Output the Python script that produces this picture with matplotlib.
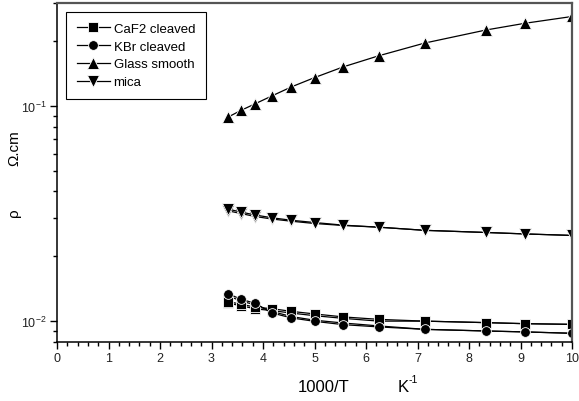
import matplotlib
matplotlib.use("Agg")
import matplotlib.pyplot as plt
from matplotlib.ticker import LogLocator, MultipleLocator, NullFormatter

plt.rcParams['font.family'] = ['Liberation Sans', 'DejaVu Sans']
plt.rcParams['mathtext.fontset'] = 'custom'
plt.rcParams['mathtext.rm'] = 'Liberation Sans'
plt.rcParams['mathtext.it'] = 'Liberation Sans:italic'

# 1000/T (K^-1)
inv_T = [3.33, 3.57, 3.85, 4.17, 4.55, 5.0, 5.56, 6.25, 7.14, 8.33, 9.09, 10.0]

# resistivity rho (Ohm.cm)
caf2 = [0.0123, 0.0120, 0.0116, 0.01143, 0.0111, 0.0108, 0.01046, 0.01019, 0.0100, 0.00984, 0.00973, 0.00966]
caf2_b = [0.0121, 0.0118, 0.0114, 0.0112, 0.0109, 0.0106, 0.0103, 0.0100, 0.0100, 0.00984, 0.00973, 0.00966]
kbr = [0.0134, 0.01263, 0.0121, 0.01092, 0.01035, 0.00998, 0.00963, 0.0094, 0.00916, 0.0090, 0.00891, 0.00878]
kbr_b = [0.0131, 0.0124, 0.0119, 0.0111, 0.0105, 0.0101, 0.0098, 0.0095, 0.00916, 0.0090, 0.00891, 0.00878]
glass = [0.0888, 0.0951, 0.1022, 0.111, 0.1223, 0.1351, 0.1516, 0.1707, 0.1955, 0.2248, 0.2416, 0.2597]
mica = [0.0331, 0.0321, 0.0311, 0.0302, 0.0294, 0.0287, 0.0279, 0.0273, 0.0264, 0.0258, 0.0254, 0.0250]
mica_b = [0.0325, 0.0316, 0.0306, 0.0298, 0.0291, 0.0284, 0.0278, 0.0273, 0.0264, 0.0258, 0.0254, 0.0250]

labels = ["CaF2 cleaved", "KBr cleaved", "Glass smooth", "mica"]

fig = plt.figure(figsize=(5.79, 4.02), dpi=100)
ax = fig.add_axes([57/579, 1-343/402, 515/579, 339/402])

lw = 0.9
common = dict(color='black', lw=lw, mfc='black', mec='white', mew=0.6)
ax.plot(inv_T, caf2_b, marker='s', ms=6.5, **common)
ax.plot(inv_T, kbr_b, marker='o', ms=7, **common)
ax.plot(inv_T, mica_b, marker='v', ms=8, **common)
h1, = ax.plot(inv_T, caf2, marker='s', ms=6.5, label=labels[0], **common)
h2, = ax.plot(inv_T, kbr, marker='o', ms=7, label=labels[1], **common)
h3, = ax.plot(inv_T, glass, marker='^', ms=8, label=labels[2], **common)
h4, = ax.plot(inv_T, mica, marker='v', ms=8, label=labels[3], **common)

ax.set_yscale('log')
ax.set_xlim(0, 10)
ax.set_ylim(0.008, 0.3)

ax.xaxis.set_major_locator(MultipleLocator(1))
ax.xaxis.set_minor_locator(MultipleLocator(0.2))
ax.yaxis.set_major_locator(LogLocator(base=10))
ax.yaxis.set_minor_locator(LogLocator(base=10, subs=range(2, 10)))
ax.yaxis.set_minor_formatter(NullFormatter())

ax.tick_params(axis='both', which='major', direction='out', length=5, width=1,
               labelsize=9, colors='black', pad=2.5, labelcolor='#222222')
ax.tick_params(axis='both', which='minor', direction='out', length=3, width=1)
ax.tick_params(top=False, right=False)

for s in ['left', 'bottom']:
    ax.spines[s].set_linewidth(1.1)
    ax.spines[s].set_color('black')
for s in ['top', 'right']:
    ax.spines[s].set_linewidth(1.6)
    ax.spines[s].set_color('#555555')

leg = ax.legend(handles=[h1, h2, h3, h4], loc='upper left',
                bbox_to_anchor=(9/515, 1 - 9/339), borderaxespad=0,
                fontsize=9.5, frameon=True, fancybox=False, framealpha=1,
                edgecolor='black', handlelength=2.5, handletextpad=0.3,
                labelspacing=0.42, borderpad=0.8)
leg.get_frame().set_linewidth(0.8)

fig.text(298/579, 1-388/402, "1000/T", fontsize=12, ha='left', va='center')
fig.text(398/579, 1-388/402, "K", fontsize=12, ha='left', va='center')
fig.text(408.5/579, 1-380/402, "-1", fontsize=7.5, ha='left', va='center')
fig.text(14/579, 1-213/402, "ρ", fontsize=11, rotation=90, ha='center', va='center')
fig.text(14/579, 1-148/402, "Ω.cm", fontsize=11, rotation=90, ha='center', va='center')

fig.savefig("out.png", dpi=100)
